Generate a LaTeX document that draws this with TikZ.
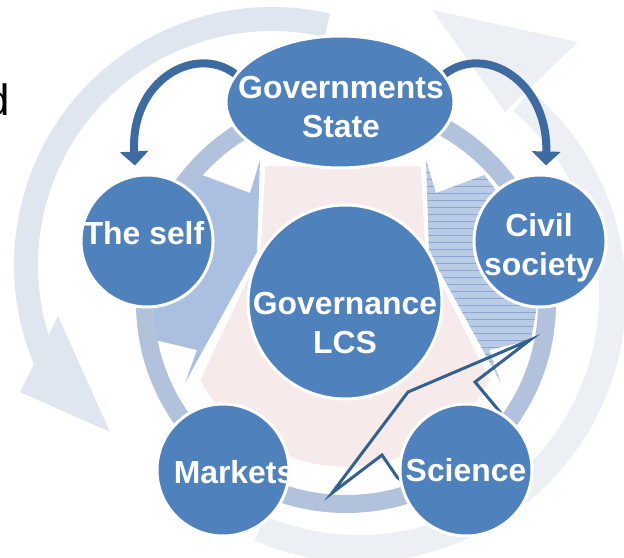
\documentclass[tikz,border=0pt]{standalone}
\usepackage{fontspec}
\setmainfont{Liberation Sans}
\usetikzlibrary{shapes.geometric,arrows.meta}

\definecolor{boxblue}{HTML}{4F81BD}
\definecolor{ringblue}{HTML}{B3C2DC}
\definecolor{faintgrey}{HTML}{E0E6EF}
\definecolor{faintright}{HTML}{ECEFF4}
\definecolor{blush}{HTML}{F6EAEA}
\definecolor{wedgeleft}{HTML}{ABC0E0}
\definecolor{wedgeright}{HTML}{BACBE5}
\definecolor{hatch}{HTML}{8BA6D4}
\definecolor{curveblue}{HTML}{3D6AA0}
\definecolor{boltblue}{HTML}{33608F}

\begin{document}
\begin{tikzpicture}[x=1bp,y=-1bp]%[shorten >=1pt,->]

  \tikzstyle{actor}=[circle,draw=white,line width=3bp,fill=boxblue,minimum size=132bp,inner sep=0pt]
  \tikzstyle{caption}=[text=white,font=\fontsize{32}{39}\selectfont\bfseries,align=center,inner sep=0pt]
  \tikzstyle{sweep}=[draw=curveblue,line width=8bp,-{Triangle[width=28bp,length=14bp]}]

  \useasboundingbox (0,0) rectangle (624,558);
  \clip (0,0) rectangle (624,558);

  \node[anchor=base east,inner sep=0pt,font=\fontsize{44}{44}\selectfont] (word) at (10,116) {d};

  % faint cycle behind everything
  \fill[faintgrey,shift={(272,265)}] (-77:258) arc[start angle=-77,end angle=-203,radius=258]
    -- (-203:234) arc[start angle=-203,end angle=-77,radius=234] -- cycle;
  \fill[faintgrey] (20,392) -- (58,316) -- (110,432) -- cycle;
  \fill[faintright,shift={(359,295)}] (113:240) arc[start angle=113,end angle=-50,radius=240]
    -- (-50:267) arc[start angle=-50,end angle=113,radius=267] -- cycle;
  \fill[faintright] (432,10) -- (578,42) -- (505,112) -- cycle;

  \fill[wedgeleft] (260,160) -- (257,252) -- (185,383) -- (197,350) -- (155,340)
    -- (148,300) -- (158,230) -- (202,175) -- (250,193) -- cycle;
  \fill[wedgeright] (426,160) -- (429,252) -- (501,383) -- (489,350) -- (531,340)
    -- (538,300) -- (528,230) -- (484,175) -- (436,193) -- cycle;
  \begin{scope}
    \clip (426,160) -- (429,252) -- (501,383) -- (489,350) -- (531,340)
      -- (538,300) -- (528,230) -- (484,175) -- (436,193) -- cycle;
    \foreach \y in {165,172,...,385}
      \draw[hatch,line width=0.8bp] (420,\y) -- (545,\y);
  \end{scope}

  \fill[blush,draw=white,line width=3bp] (264,165) -- (422,165) -- (427,252) -- (491.6,380)
    arc[start angle=28,end angle=152,radius=166] -- (259,252) -- cycle;

  \draw[ringblue,line width=18bp] (346,303) circle[radius=201];

  \draw[boltblue,line width=3bp] (332,493) -- (408,392) -- (530,340) -- (475,382) -- (500,412)
    -- (430,505) -- (397,477) -- (382,455) -- cycle;

  \node[ellipse,draw=white,line width=3bp,fill=boxblue,minimum width=228bp,minimum height=132bp,
        inner sep=0pt] (state) at (340,102) {};
  \node[actor,minimum size=194bp] (core) at (345,302) {};
  \foreach \name/\x/\y in {self/147/241, civil/540/241, markets/223/470, science/466/470}
    \node[actor] (\name) at (\x,\y) {};

  \draw[sweep] (state.165) .. controls +(-40,-30) and +(-5,-85) .. ([xshift=-12bp,yshift=8bp]self.north);
  \draw[sweep] (state.15) .. controls +(40,-30) and +(2,-85) .. ([xshift=6bp,yshift=8bp]civil.north);

  \foreach \name/\x/\y/\text in {state-t/341/107/{Governments\\State},
                                 core-t/345/323/{Governance\\LCS},
                                 self-t/144/233/{The self}, civil-t/539/248/{Civil\\society},
                                 markets-t/234/472/Markets, science-t/466/470/Science}
    \node[caption] (\name) at (\x,\y) {\text};
\end{tikzpicture}
\end{document}
